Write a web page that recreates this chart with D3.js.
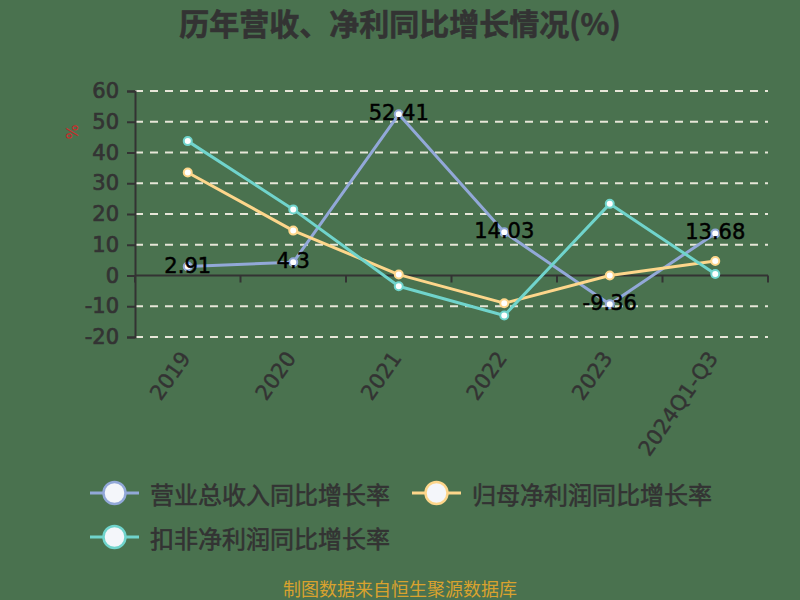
<!DOCTYPE html>
<html>
<head>
<meta charset="utf-8">
<script src="https://cdn.jsdelivr.net/npm/d3@7/dist/d3.min.js"></script>
<style>
html,body{margin:0;padding:0;background:#4a724f;}
svg{display:block;}
</style>
</head>
<body>
<svg id="chart" width="800" height="600"></svg>
<script>
const categories = ["2019","2020","2021","2022","2023","2024Q1-Q3"];
const revenueGrowth = [2.91, 4.3, 52.41, 14.03, -9.36, 13.68];
const netProfitGrowth = [33.5, 14.6, 0.3, -9.0, 0.0, 4.7];
const deductedProfitGrowth = [43.7, 21.5, -3.5, -13.0, 23.3, 0.5];
const yTicks = [60, 50, 40, 30, 20, 10, 0, -10, -20];
const seriesNames = ["营业总收入同比增长率","归母净利润同比增长率","扣非净利润同比增长率"];
const seriesColors = ["#92a8d8","#fdd68b","#70d4cc"];
const titleText = "历年营收、净利同比增长情况(%)";
const footerText = "制图数据来自恒生聚源数据库";

(function(){
const series = [revenueGrowth, netProfitGrowth, deductedProfitGrowth];
const svg = d3.select("#chart");
const W = 800, H = 600;
svg.append("rect").attr("width", W).attr("height", H).attr("fill", "#4a724f");

const pLeft = 135, pRight = 768, pTop = 91, pBottom = 337;
const x = d3.scaleBand().domain(categories).range([pLeft, pRight]);
const y = d3.scaleLinear().domain([-20, 60]).range([pBottom, pTop]);
const numFont = "'DejaVu Sans', sans-serif";
const cjkFont = "'Noto Sans CJK SC', sans-serif";

// title
svg.append("text").attr("x", 400).attr("y", 22).attr("text-anchor", "middle")
  .attr("dominant-baseline", "central").attr("font-family", cjkFont)
  .attr("font-weight", "bold").attr("font-size", 30).attr("fill", "#333")
  .attr("stroke", "#333").attr("stroke-width", 0.6)
  .text(titleText);

// grid lines
svg.append("g").selectAll("line").data(yTicks.filter(d => d !== 0)).join("line")
  .attr("x1", pLeft).attr("x2", pRight)
  .attr("y1", d => y(d)).attr("y2", d => y(d))
  .attr("stroke", "#e6e6d8").attr("stroke-width", 2).attr("stroke-dasharray", "8,7");

// y axis
const yAxis = d3.axisLeft(y).tickValues(yTicks).tickSize(8).tickPadding(8).tickFormat(d => String(d));
const gy = svg.append("g").attr("transform", `translate(${pLeft},0)`).call(yAxis);
gy.select(".domain").attr("stroke", "#333").attr("stroke-width", 2);
gy.selectAll(".tick line").attr("stroke", "#333").attr("stroke-width", 2);
gy.selectAll(".tick text").attr("font-family", numFont).attr("font-size", 21).attr("fill", "#333")
  .attr("stroke", "#333").attr("stroke-width", 0.7);

// y axis name
svg.append("text").attr("transform", "translate(72,132) rotate(-90)")
  .attr("text-anchor", "middle").attr("dominant-baseline", "central")
  .attr("font-family", numFont).attr("font-size", 16).attr("fill", "#cc2a2a").text("%");

// x axis at zero
const y0 = y(0);
svg.append("line").attr("x1", pLeft).attr("x2", pRight).attr("y1", y0).attr("y2", y0)
  .attr("stroke", "#333").attr("stroke-width", 2);
const boundaries = categories.map(c => x(c)).concat([x(categories[categories.length-1]) + x.bandwidth()]);
svg.append("g").selectAll("line").data(boundaries).join("line")
  .attr("x1", d => d).attr("x2", d => d).attr("y1", y0).attr("y2", y0 + 7)
  .attr("stroke", "#333").attr("stroke-width", 2);

// x labels
svg.append("g").selectAll("text").data(categories).join("text")
  .attr("transform", d => `translate(${x(d) + x.bandwidth()/2 - 2},354) rotate(-55)`)
  .attr("text-anchor", "end").attr("dominant-baseline", "central")
  .attr("font-family", numFont).attr("font-size", 21).attr("fill", "#333")
  .attr("stroke", "#333").attr("stroke-width", 0.4)
  .text(d => d);

// lines
const cx = d => x(d) + x.bandwidth()/2;
series.forEach((vals, i) => {
  const line = d3.line().x((v, j) => cx(categories[j])).y(v => y(v));
  svg.append("path").datum(vals).attr("d", line).attr("fill", "none")
    .attr("stroke", seriesColors[i]).attr("stroke-width", 3).attr("stroke-linejoin", "round");
});
series.forEach((vals, i) => {
  svg.append("g").selectAll("circle").data(vals).join("circle")
    .attr("cx", (v, j) => cx(categories[j])).attr("cy", v => y(v)).attr("r", 4)
    .attr("fill", "#fff").attr("stroke", seriesColors[i]).attr("stroke-width", 2);
});

// data labels for revenue
svg.append("g").selectAll("text").data(revenueGrowth).join("text")
  .attr("x", (v, j) => cx(categories[j])).attr("y", v => y(v) - 1)
  .attr("text-anchor", "middle").attr("dominant-baseline", "central")
  .attr("font-family", numFont).attr("font-size", 21).attr("fill", "#000")
  .attr("stroke", "#000").attr("stroke-width", 0.5)
  .text(v => String(v));

// legend
const legendPos = [{x: 90, y: 493}, {x: 412, y: 493}, {x: 90, y: 537}];
seriesNames.forEach((name, i) => {
  const p = legendPos[i];
  const g = svg.append("g").attr("transform", `translate(${p.x},${p.y})`);
  g.append("line").attr("x1", 0).attr("x2", 49).attr("y1", 0).attr("y2", 0)
    .attr("stroke", seriesColors[i]).attr("stroke-width", 3);
  g.append("circle").attr("cx", 24.5).attr("cy", 0).attr("r", 11)
    .attr("fill", "#f4f6fa").attr("stroke", seriesColors[i]).attr("stroke-width", 2.5);
  g.append("text").attr("x", 60).attr("y", 0).attr("dominant-baseline", "central")
    .attr("font-family", cjkFont).attr("font-size", 24).attr("fill", "#333")
    .attr("stroke", "#333").attr("stroke-width", 0.6).text(name);
});

// footer
svg.append("text").attr("x", 400).attr("y", 588).attr("text-anchor", "middle")
  .attr("dominant-baseline", "central").attr("font-family", cjkFont)
  .attr("font-size", 18).attr("fill", "#d9a22e").text(footerText);
})();
</script>
</body>
</html>
